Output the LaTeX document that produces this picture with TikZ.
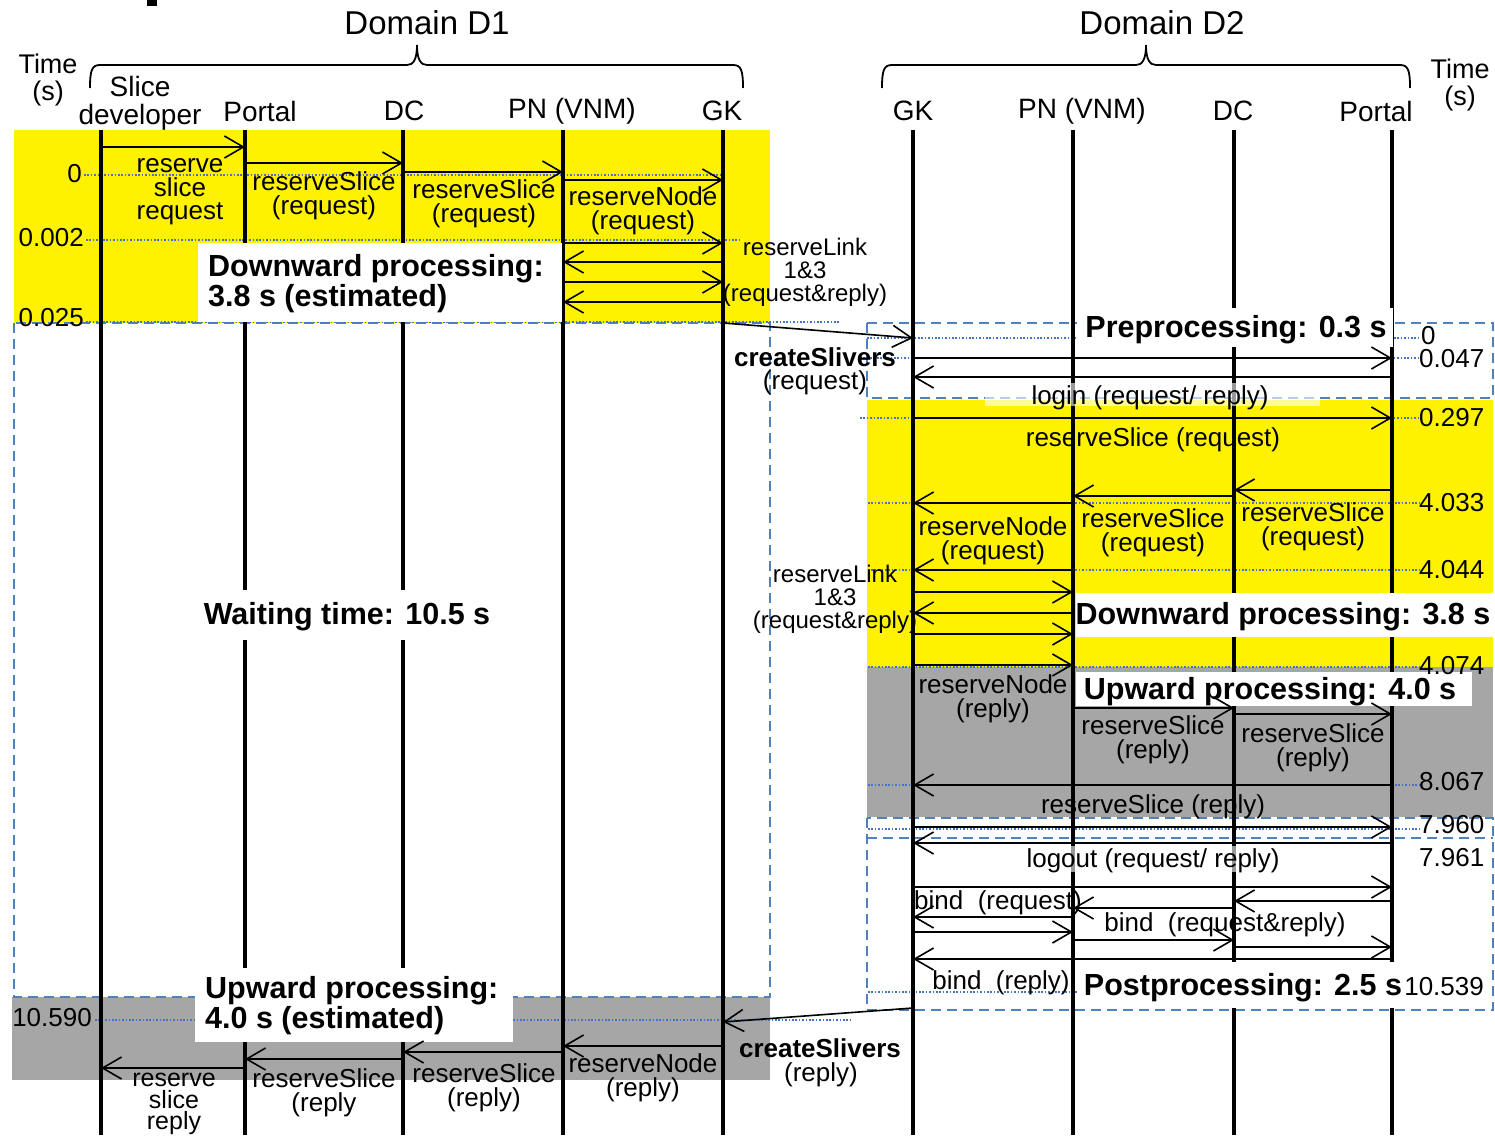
\documentclass[tikz,border=0pt]{standalone}
\usepackage{fontspec}
\setmainfont{Liberation Sans}
\usetikzlibrary{arrows.meta,calc}
\definecolor{dotblue}{HTML}{4472C4}
\definecolor{dashblue}{HTML}{4F81BD}
\definecolor{grayreg}{HTML}{A6A6A6}
\newcommand\mymsg[3]{\draw[msg] ($(#1)+(0,#3)$) -- ($(#2)+(0,#3)$);}
\begin{document}
\begin{tikzpicture}[x=1pt,y=-1pt,
  lifeline/.style={line width=3.2pt},
  msg/.style={line width=1.6pt,-{Straight Barb[length=19pt,width=22pt]}},
  lbl/.style={font=\fontsize{26}{23.5}\selectfont,align=center,inner sep=0pt},
  smlbl/.style={font=\fontsize{24}{23}\selectfont,align=center,inner sep=0pt},
  hdr/.style={font=\fontsize{28}{28}\selectfont,align=center,inner sep=0pt},
  dom/.style={font=\fontsize{33}{33}\selectfont,inner sep=0pt},
  blbl/.style={font=\bfseries\fontsize{30.5}{30}\selectfont,align=left,inner sep=0pt},
  bsm/.style={font=\bfseries\fontsize{26}{24}\selectfont,inner sep=0pt},
  tlbl/.style={font=\fontsize{26}{24}\selectfont,inner sep=0pt},
  dotl/.style={line width=1.6pt,draw=dotblue,dash pattern=on 1.6pt off 1.8pt},
  dashbox/.style={line width=1.7pt,draw=dashblue,dash pattern=on 10pt off 6pt},
  brace/.style={line width=1.8pt}]
\useasboundingbox (0,0) rectangle (1495,1135);

% lifeline reference coordinates
\coordinate (Asd) at (101,0);
\coordinate (Apo) at (245,0);
\coordinate (Adc) at (403,0);
\coordinate (Apn) at (563,0);
\coordinate (Agk) at (723,0);
\coordinate (Bgk) at (913,0);
\coordinate (Bpn) at (1073,0);
\coordinate (Bdc) at (1234,0);
\coordinate (Bpo) at (1392,0);

% regions
\fill[yellow] (14,130) rectangle (770,323);
\fill[grayreg] (12,997) rectangle (770,1080);
\fill[yellow] (867,400) rectangle (1493,667);
\fill[grayreg] (867,667) rectangle (1493,817);

% dashed boxes
\draw[dashbox] (14,323) rectangle (770,997);
\draw[dashbox] (867,323) rectangle (1493,398);
\draw[dashbox] (867,818) rectangle (1493,1010);
\draw[dashbox] (867,838) -- (1493,838);

% dotted time lines
\draw[dotl] (84,175) -- (720,175);
\draw[dotl] (86,240) -- (740,240);
\draw[dotl] (86,322) -- (840,322);
\draw[dotl] (95,1020) -- (850,1020);
\draw[dotl] (867,338) -- (1420,338);
\draw[dotl] (860,358) -- (1420,358);
\draw[dotl] (860,418) -- (1420,418);
\draw[dotl] (868,503) -- (1420,503);
\draw[dotl] (868,570) -- (1420,570);
\draw[dotl] (868,667) -- (1420,667);
\draw[dotl] (868,785) -- (1420,785);
\draw[dotl] (868,829) -- (1420,829);
\draw[dotl] (868,992) -- (1080,992);

% lifelines
\foreach \n in {Asd,Apo,Adc,Apn,Agk,Bgk,Bpn,Bdc,Bpo}
  \draw[lifeline] ($(\n)+(0,130)$) -- ($(\n)+(0,1135)$);

% white label boxes
\fill[white] (198,243) rectangle (562,322);
\fill[white] (200,590) rectangle (495,640);
\fill[white] (195,968) rectangle (513,1042);
\fill[white] (1077,308) rectangle (1393,347);
\fill[white] (1076,593) rectangle (1493,637);
\fill[white] (1076,672) rectangle (1472,706);
\fill[white] (1077,962) rectangle (1402,1008);
\fill[white,opacity=0.6] (985,383) rectangle (1320,406);
\fill[white,opacity=0.6] (1025,846) rectangle (1282,872);

% cropped glyph at top
\fill (147,0) rectangle (157,6);

% headers
\node[dom] (d1) at (427,23) {Domain D1};
\node[dom] (d2) at (1162,23) {Domain D2};
\draw[brace] (90,88) .. controls (90,70) and (92,65) .. (100,65) -- (407,65)
  .. controls (413,65) and (417,60) .. (417,45) .. controls (417,60) and (421,65) .. (427,65)
  -- (733,65) .. controls (741,65) and (743,70) .. (743,88);
\draw[brace] (882,88) .. controls (882,70) and (884,65) .. (892,65) -- (1136,65)
  .. controls (1142,65) and (1146,60) .. (1146,45) .. controls (1146,60) and (1150,65) .. (1156,65)
  -- (1400,65) .. controls (1408,65) and (1410,70) .. (1410,88);
\node[hdr,font=\fontsize{27}{27}\selectfont] (t1) at (48,80) {Time\\(s)};
\node[hdr,font=\fontsize{27}{27}\selectfont] (t2) at (1460,85) {Time\\(s)};
\node[hdr] (hsd) at (140,103) {Slice\\developer};
\node[hdr] (hpo) at (260,111) {Portal};
\node[hdr] (hdc) at (404,111) {DC};
\node[hdr] (hpn) at (572,111) {PN (VNM)};
\node[hdr] (hgk) at (722,111) {GK};
\node[hdr] (hgk2) at (913,111) {GK};
\node[hdr] (hpn2) at (1082,111) {PN (VNM)};
\node[hdr] (hdc2) at (1233,111) {DC};
\node[hdr] (hpo2) at (1376,111) {Portal};

% time labels
\node[tlbl,anchor=east] (a0) at (82,174) {0};
\node[tlbl,anchor=east] (a1) at (84,238) {0.002};
\node[tlbl,anchor=east] (a2) at (84,318) {0.025};
\node[tlbl,anchor=east] (a3) at (92,1018) {10.590};
\node[tlbl,anchor=west] (b0) at (1421,336) {0};
\node[tlbl,anchor=west] (b1) at (1419,359) {0.047};
\node[tlbl,anchor=west] (b2) at (1419,418) {0.297};
\node[tlbl,anchor=west] (b3) at (1419,503) {4.033};
\node[tlbl,anchor=west] (b4) at (1419,570) {4.044};
\node[tlbl,anchor=west] (b5) at (1419,666) {4.074};
\node[tlbl,anchor=west] (b6) at (1419,782) {8.067};
\node[tlbl,anchor=west] (b7) at (1419,825) {7.960};
\node[tlbl,anchor=west] (b8) at (1419,858) {7.961};
\node[tlbl,anchor=east] (b9) at (1484,987) {10.539};

% bold phase labels
\node[blbl,anchor=west] (p1) at (208,284) {Downward processing:\\3.8 s (estimated)};
\node[blbl] (p2) at (347,617) {Waiting time: 10.5 s};
\node[blbl,anchor=west] (p3) at (205,1006) {Upward processing:\\4.0 s (estimated)};
\node[blbl] (p4) at (1236,330) {Preprocessing: 0.3 s};
\node[blbl] (p5) at (1283,617) {Downward processing: 3.8 s};
\node[blbl] (p6) at (1270,692) {Upward processing: 4.0 s};
\node[blbl] (p7) at (1243,988) {Postprocessing: 2.5 s};

% D1 messages
\mymsg{Asd}{Apo}{147}
\mymsg{Apo}{Adc}{163}
\mymsg{Adc}{Apn}{172}
\mymsg{Apn}{Agk}{180}
\mymsg{Apn}{Agk}{243}
\mymsg{Agk}{Apn}{262}
\mymsg{Apn}{Agk}{282}
\mymsg{Agk}{Apn}{302}
\node[lbl] (m1) at (180,192) {reserve\\slice\\request};
\node[lbl] (m2) at (324,196) {reserveSlice\\(request)};
\node[lbl] (m3) at (484,204) {reserveSlice\\(request)};
\node[lbl] (m4) at (643,211) {reserveNode\\(request)};
\node[smlbl] (m5) at (805,272) {reserveLink\\1\&3\\(request\&reply)};

% createSlivers request
\draw[msg] ($(Agk)+(0,323)$) -- ($(Bgk)+(0,338)$);
\node[bsm] (c1) at (815,357) {createSlivers};
\node[lbl] (c2) at (815,383) {(request)};

% D2 messages
\mymsg{Bgk}{Bpo}{358}
\mymsg{Bpo}{Bgk}{377}
\node[lbl] (n1) at (1150,398) {login (request/ reply)};
\mymsg{Bgk}{Bpo}{418}
\node[lbl] (n2) at (1153,440) {reserveSlice (request)};
\mymsg{Bpo}{Bdc}{490}
\mymsg{Bdc}{Bpn}{496}
\mymsg{Bpn}{Bgk}{503}
\node[lbl] (n3) at (993,541) {reserveNode\\(request)};
\node[lbl] (n4) at (1153,533) {reserveSlice\\(request)};
\node[lbl] (n5) at (1313,527) {reserveSlice\\(request)};
\mymsg{Bpn}{Bgk}{570}
\mymsg{Bgk}{Bpn}{592}
\mymsg{Bpn}{Bgk}{613}
\mymsg{Bgk}{Bpn}{634}
\node[smlbl] (n6) at (835,599) {reserveLink\\1\&3\\(request\&reply)};
\mymsg{Bgk}{Bpn}{665}
\node[lbl] (n7) at (993,699) {reserveNode\\(reply)};
\mymsg{Bpn}{Bdc}{708}
\mymsg{Bdc}{Bpo}{714}
\node[lbl] (n8) at (1153,740) {reserveSlice\\(reply)};
\node[lbl] (n9) at (1313,748) {reserveSlice\\(reply)};
\mymsg{Bpo}{Bgk}{785}
\node[lbl] (n10) at (1153,807) {reserveSlice (reply)};
\mymsg{Bgk}{Bpo}{827}
\mymsg{Bpo}{Bgk}{843}
\node[lbl] (n11) at (1153,861) {logout (request/ reply)};
\mymsg{Bgk}{Bpo}{887}
\mymsg{Bpo}{Bdc}{901}
\mymsg{Bdc}{Bpn}{908}
\mymsg{Bpn}{Bgk}{917}
\mymsg{Bgk}{Bpn}{932}
\mymsg{Bpn}{Bdc}{940}
\mymsg{Bdc}{Bpo}{947}
\mymsg{Bpo}{Bgk}{959}
\node[lbl] (n12) at (998,903) {bind\ \ (request)};
\node[lbl] (n13) at (1225,925) {bind\ \ (request\&reply)};
\node[lbl] (n14) at (1001,983) {bind\ \ (reply)};

% createSlivers reply
\draw[msg] ($(Bgk)+(0,1008)$) -- ($(Agk)+(0,1022)$);
\node[bsm] (c3) at (820,1048) {createSlivers};
\node[lbl] (c4) at (821,1075) {(reply)};

% D1 replies
\mymsg{Agk}{Apn}{1046}
\mymsg{Apn}{Adc}{1052}
\mymsg{Adc}{Apo}{1059}
\mymsg{Apo}{Asd}{1068}
\node[lbl] (r1) at (643,1078) {reserveNode\\(reply)};
\node[lbl] (r2) at (484,1088) {reserveSlice\\(reply)};
\node[lbl] (r3) at (324,1093) {reserveSlice\\(reply};
\node[lbl,font=\fontsize{25}{21.5}\selectfont] (r4) at (174,1104) {reserve\\slice\\reply};
\end{tikzpicture}
\end{document}
